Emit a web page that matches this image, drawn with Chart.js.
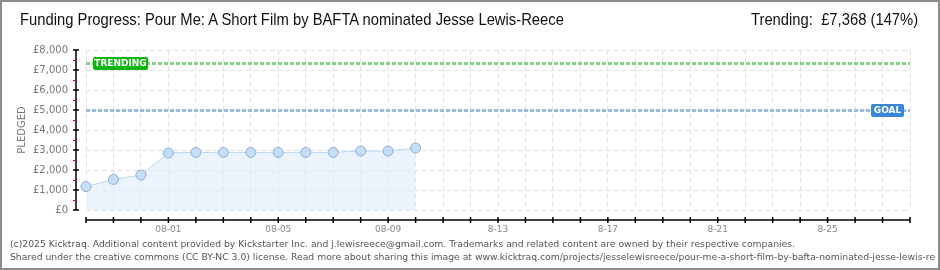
<!DOCTYPE html>
<html>
<head>
<meta charset="utf-8">
<script src="https://cdn.jsdelivr.net/npm/chart.js@4/dist/chart.umd.min.js"></script>
<style>
  body { margin: 0; background: #fff; }
  #wrap { position: relative; width: 940px; height: 270px; overflow: hidden; }
  #frame { position: absolute; left: 0; top: 0; width: 936px; height: 266px; border: 2px solid #8c8c8c; }
  #title { position: absolute; left: 20px; top: 10px; font: 17px "Liberation Sans", sans-serif; color: #111;
           white-space: nowrap; transform: scaleX(0.87); transform-origin: left top; }
  #trend { position: absolute; right: 22px; top: 10px; font: 17px "Liberation Sans", sans-serif; color: #111;
           white-space: nowrap; transform: scaleX(0.87); transform-origin: right top; }
  #foot { position: absolute; left: 10px; top: 237px; width: 926px; font: 9.25px "DejaVu Sans", sans-serif; color: #555; line-height: 13px; white-space: nowrap; overflow: hidden; }
  canvas { position: absolute; left: 0; top: 0; }
</style>
</head>
<body>
<div id="wrap">
  <canvas id="myChart" width="940" height="270"></canvas>
  <div id="frame"></div>
  <div id="title">Funding Progress: Pour Me: A Short Film by BAFTA nominated Jesse Lewis-Reece</div>
  <div id="trend">Trending:&nbsp; £7,368 (147%)</div>
  <div id="foot">(c)2025 Kicktraq. Additional content provided by Kickstarter Inc. and j.lewisreece@gmail.com. Trademarks and related content are owned by their respective companies.<br>Shared under the creative commons (CC BY-NC 3.0) license. Read more about sharing this image at www.kicktraq.com/projects/jesselewisreece/pour-me-a-short-film-by-bafta-nominated-jesse-lewis-reece/</div>
</div>
<script>
var days = ['07-29', '07-30', '07-31', '08-01', '08-02', '08-03', '08-04', '08-05', '08-06', '08-07',
            '08-08', '08-09', '08-10', '08-11', '08-12', '08-13', '08-14', '08-15', '08-16', '08-17',
            '08-18', '08-19', '08-20', '08-21', '08-22', '08-23', '08-24', '08-25', '08-26', '08-27', '08-28'];
var tickLabels = ['', '', '', '08-01', '', '', '', '08-05', '', '', '', '08-09', '', '', '', '8-13',
                  '', '', '', '8-17', '', '', '', '8-21', '', '', '', '8-25', '', '', ''];
var pledged = [1170, 1530, 1750, 2850, 2880, 2880, 2880, 2880, 2880, 2880, 2950, 2950, 3100];
var yTicks = [0, 1000, 2000, 3000, 4000, 5000, 6000, 7000, 8000];
var goal = 5000;
var trending = 7368;

// axis lines, tick marks and the goal / trending markers
var extras = {
    id: 'extras',
    afterDatasetsDraw: function (chart) {
        var c = chart.ctx, x = chart.scales.x, y = chart.scales.y, a = chart.chartArea;
        c.save();

        function level(val, color, label, boxColor, boxX, boxW) {
            var py = Math.round(y.getPixelForValue(val)) + 0.5;
            c.strokeStyle = color;
            c.lineWidth = 3;
            c.setLineDash([4, 2]);
            c.beginPath();
            c.moveTo(a.left, py);
            c.lineTo(a.right, py);
            c.stroke();
            c.setLineDash([]);
            c.fillStyle = boxColor;
            c.beginPath();
            c.roundRect(boxX, py - 6.5, boxW, 13, 2);
            c.fill();
            c.fillStyle = '#fff';
            c.font = 'bold 9px "DejaVu Sans"';
            c.textAlign = 'center';
            c.textBaseline = 'middle';
            c.fillText(label, boxX + boxW / 2, py + 0.5);
        }
        level(goal, '#9dbde4', 'GOAL', '#3a87d8', 871, 33);
        level(trending, '#84d484', 'TRENDING', '#12b512', 93, 55);

        c.strokeStyle = '#000';
        c.lineWidth = 1.5;
        var ax = a.left - 10;
        c.beginPath();
        c.moveTo(ax, y.getPixelForValue(8000));
        c.lineTo(ax, y.getPixelForValue(0));
        yTicks.forEach(function (v) {
            var py = y.getPixelForValue(v);
            c.moveTo(ax - 3, py);
            c.lineTo(ax + 3, py);
        });
        c.stroke();
        c.strokeStyle = '#e00000';
        c.lineWidth = 1;
        c.beginPath();
        yTicks.slice(1).forEach(function (v) {
            var py = Math.round(y.getPixelForValue(v - 500)) + 0.5;
            c.moveTo(ax - 3, py);
            c.lineTo(ax, py);
        });
        c.stroke();

        var ay = a.bottom + 10;
        c.strokeStyle = '#000';
        c.lineWidth = 1.5;
        c.beginPath();
        c.moveTo(x.getPixelForValue(0), ay);
        c.lineTo(x.getPixelForValue(days.length - 1), ay);
        days.forEach(function (d, i) {
            var px = x.getPixelForValue(i);
            c.moveTo(px, ay - 3);
            c.lineTo(px, ay + 3);
        });
        c.stroke();
        c.restore();
    }
};

var ctx = document.getElementById('myChart');
var chart = new Chart(ctx, {
    type: 'line',
    data: {
        labels: days,
        datasets: [{
            data: pledged,
            borderColor: '#bcd6f1',
            borderWidth: 1,
            backgroundColor: 'rgba(222, 236, 251, 0.6)',
            fill: 'origin',
            tension: 0,
            pointRadius: 5,
            pointBackgroundColor: '#c5ddf7',
            pointBorderColor: '#8fb0d6',
            pointBorderWidth: 1
        }]
    },
    options: {
        responsive: false,
        animation: false,
        events: [],
        layout: { padding: { top: 50, right: 30, left: 0, bottom: 0 } },
        plugins: { legend: { display: false }, tooltip: { enabled: false } },
        scales: {
            x: {
                offset: false,
                afterFit: function (s) { s.height = 60; },
                border: { display: false, dash: [5, 3] },
                grid: { color: '#e2e2e2', drawTicks: false },
                ticks: {
                    autoSkip: false,
                    maxRotation: 0,
                    padding: 14,
                    color: '#888',
                    font: { family: 'DejaVu Sans', size: 9 },
                    callback: function (v, i) { return tickLabels[i]; }
                }
            },
            y: {
                min: 0,
                max: 8000,
                afterFit: function (s) { s.width = 86; },
                border: { display: false, dash: [5, 3] },
                grid: { color: '#e2e2e2', drawTicks: false },
                ticks: {
                    stepSize: 1000,
                    padding: 18,
                    color: '#777',
                    font: { family: 'DejaVu Sans', size: 10 },
                    callback: function (v) { return '£' + v.toLocaleString('en-US'); }
                },
                title: {
                    display: true,
                    text: 'PLEDGED',
                    color: '#777',
                    font: { family: 'DejaVu Sans', size: 10 },
                    padding: { top: 16, bottom: 0 }
                }
            }
        }
    },
    plugins: [extras]
});
</script>
</body>
</html>
